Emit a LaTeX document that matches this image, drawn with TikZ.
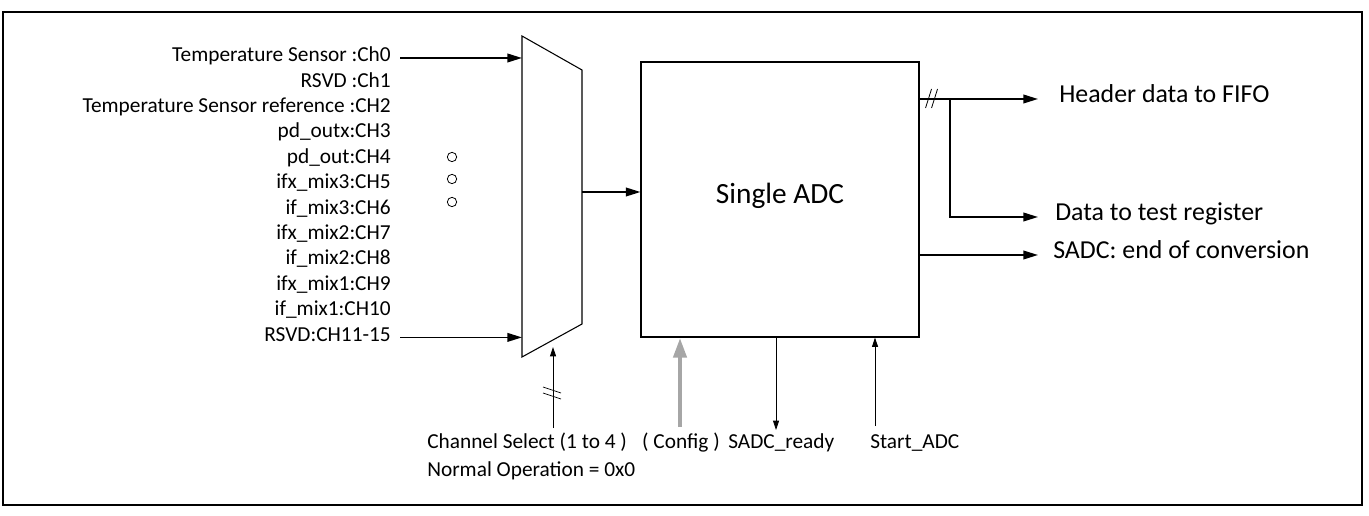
\documentclass[tikz,border=0pt]{standalone}
\usepackage{fontspec}
\setmainfont{Carlito}
\usetikzlibrary{arrows.meta,positioning}

\begin{document}
\begin{tikzpicture}[x=0.75pt, y=-0.75pt,
	every node/.style={font=\fontsize{16}{19}\selectfont, inner sep=0pt},
	lbl/.style={text height=1.6ex, text depth=0.45ex},
	big/.style={lbl, font=\fontsize{19.4}{23}\selectfont},
	bus/.style={-{Triangle[length=11pt,width=6.5pt]}, line width=1.3pt},
	wire/.style={-{Triangle[length=7pt,width=4.5pt]}, line width=0.6pt},
	cfg/.style={-{Triangle[length=15pt,width=9.5pt]}, line width=3.5pt, black!35},
	dot/.style={circle, draw, line width=0.6pt, minimum size=7pt}]

	\useasboundingbox (0,0) rectangle (1369,516);
	\draw[line width=1.6pt] (3,12) rectangle (1362,505);

	% multiplexer
	\coordinate (muxTL) at (522,36);
	\coordinate (muxTR) at (582,70);
	\coordinate (muxBR) at (582,324);
	\coordinate (muxBL) at (522,357);
	\draw[line width=0.8pt] (muxTL) -- (muxTR) -- (muxBR) -- (muxBL) -- cycle;

	% converter block
	\node[draw, lbl, font=\fontsize{22}{26}\selectfont, line width=0.8pt, minimum width=208.5pt, minimum height=206.25pt] (adc) at (780,199.5) {Single ADC};

	% channel inputs
	\foreach \lbl [count=\i from 0] in {Temperature Sensor :Ch0, RSVD :Ch1, Temperature Sensor reference :CH2, pd\_outx:CH3, pd\_out:CH4, ifx\_mix3:CH5, if\_mix3:CH6, ifx\_mix2:CH7, if\_mix2:CH8, ifx\_mix1:CH9, if\_mix1:CH10, RSVD:CH11-15}
		\node[lbl, anchor=east] (in\i) at (391,{58+25.4*\i}) {\lbl};
	\draw[bus, shorten <=7pt] (in0.east) -- (in0.east -| muxTL);
	\draw[bus, shorten <=7pt] (in11.east) -- (in11.east -| muxBL);
	\foreach \y [count=\k] in {157,179,202}
		\node[dot] (d\k) at (452,\y) {};

	\coordinate (muxOut) at (582,192);
	\draw[bus] (muxOut) -- (muxOut -| adc.west);

	% outputs
	\node[big, anchor=west] (fifo) at (1059,99) {Header data to FIFO};
	\node[big, anchor=west] (testreg) at (1055,217) {Data to test register};
	\node[big, anchor=west] (eoc) at (1053,255) {SADC: end of conversion};
	\coordinate (busA) at (adc.east |- fifo.west);
	\coordinate (tap) at (950,99);
	\draw[bus, shorten >=15.75pt] (busA) -- (fifo.west);
	\draw[bus, shorten >=12.75pt] (tap) |- (testreg.west);
	\draw[bus, shorten >=11.25pt] (adc.east |- eoc.west) -- (eoc.west);
	\draw[line width=0.6pt] (busA) ++(6,9) -- ++(6,-19) (busA) ++(12,9) -- ++(6,-19);

	% control signals
	\node[lbl, anchor=west] (chsel) at (427,445) {Channel Select (1 to 4 )};
	\node[lbl, anchor=west] (normop) at (427,473) {Normal Operation = 0x0};
	\node[lbl] (cfgl) at (681,445) {( Config )};
	\node[lbl, anchor=west] (rdyl) at (728,445) {SADC\_ready};
	\node[lbl, anchor=west] (startl) at (870,445) {Start\_ADC};

	\coordinate (selIn) at (553,428);
	\coordinate (selTip) at (553,347);
	\draw[wire] (selIn) -- (selTip);
	\draw[line width=0.5pt] (selIn) ++(-10,-41) -- ++(18,6) (selIn) ++(-10,-35) -- ++(18,6);

	\coordinate (cfgIn) at (680,427);
	\draw[cfg] (cfgIn) -- (cfgIn |- adc.south);

	\coordinate (rdy) at (776,430);
	\draw[wire] (rdy |- adc.south) -- (rdy);

	\coordinate (start) at (875,426);
	\draw[wire] (start) -- (start |- adc.south);
\end{tikzpicture}
\end{document}
